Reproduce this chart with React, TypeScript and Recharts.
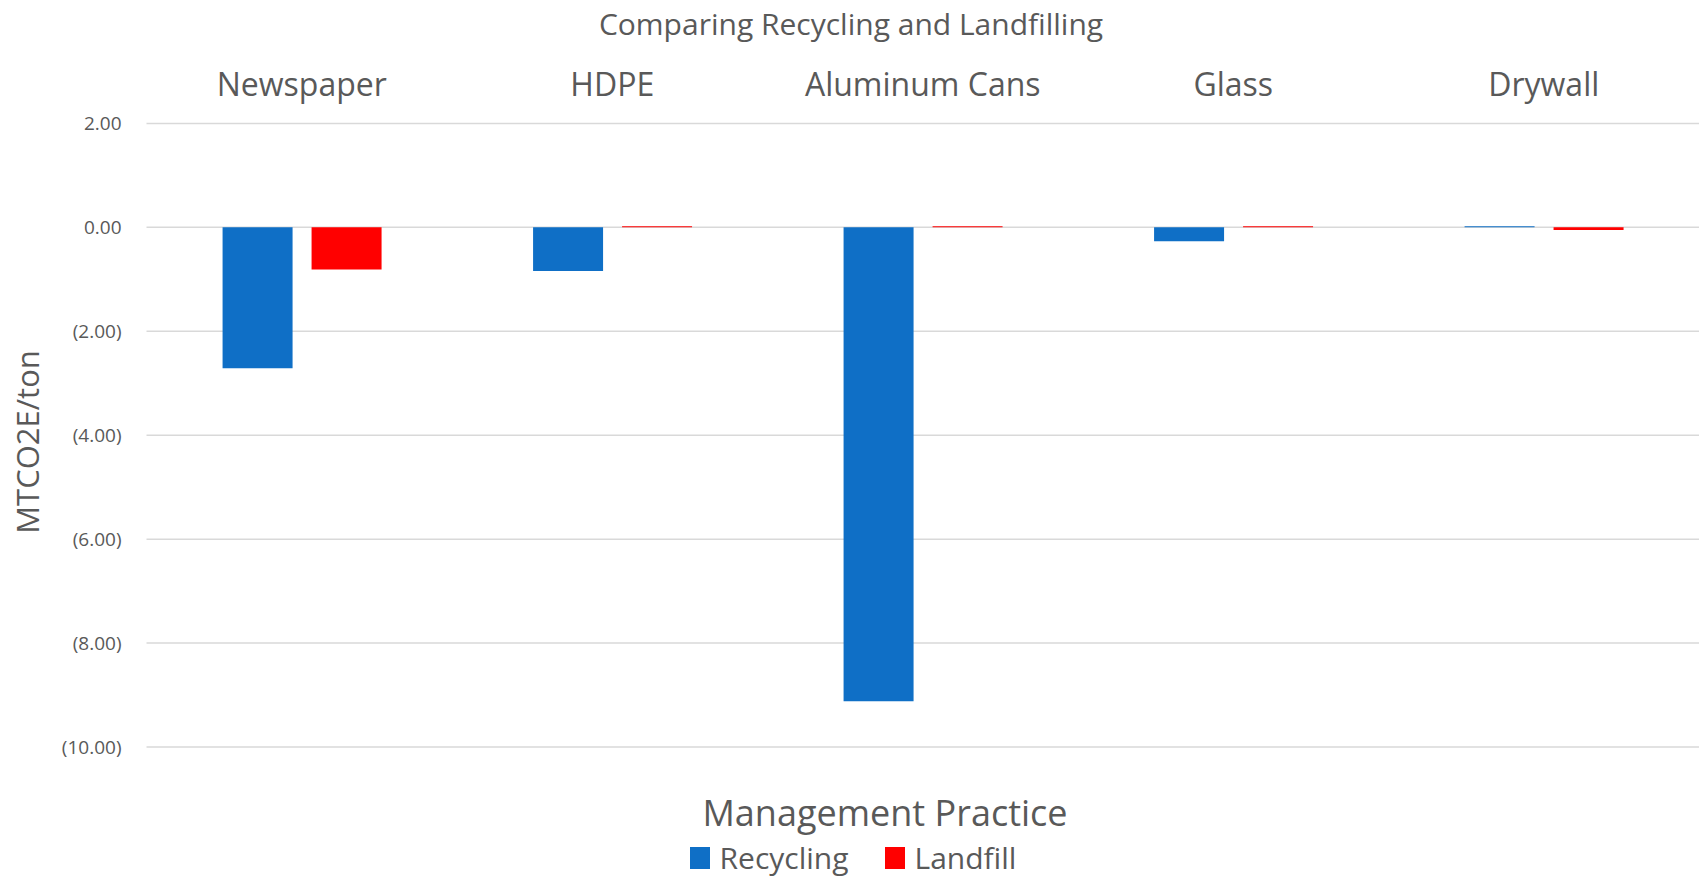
import React from 'react';
import { Bar, BarChart, CartesianGrid, Legend, XAxis, YAxis } from 'recharts';

const categories = ['Newspaper', 'HDPE', 'Aluminum Cans', 'Glass', 'Drywall'];
const recycling = [-2.71, -0.84, -9.12, -0.27, 0.02];
const landfill = [-0.81, 0.02, 0.02, 0.02, -0.05];
const yTicks = [2, 0, -2, -4, -6, -8, -10];

const BLUE = '#0F6FC6';
const RED = '#FF0000';
const TEXT = '#595959';
const FONT = '"Open Sans", "Liberation Sans", sans-serif';

const data = categories.map((name, i) => ({
  name,
  recycling: recycling[i],
  landfill: landfill[i],
}));

// Excel style: negatives in brackets
const fmt = (v: number): string =>
  v < 0 ? `(${Math.abs(v).toFixed(2)})` : v.toFixed(2);

const series = [
  { key: 'recycling', label: 'Recycling', color: BLUE },
  { key: 'landfill', label: 'Landfill', color: RED },
];

function LegendBox(): React.JSX.Element {
  return (
    <div style={{ display: 'flex', justifyContent: 'center', gap: 36, paddingLeft: 4 }}>
      {series.map((s) => (
        <div key={s.key} style={{ display: 'flex', alignItems: 'center' }}>
          <span
            style={{
              display: 'inline-block',
              width: 20,
              height: 22,
              background: s.color,
              marginRight: 10,
            }}
          />
          <span style={{ fontFamily: FONT, fontSize: 30, color: TEXT, lineHeight: '30px' }}>
            {s.label}
          </span>
        </div>
      ))}
    </div>
  );
}

export default function App(): React.JSX.Element {
  return (
    <div
      style={{
        position: 'absolute',
        left: 0,
        top: 0,
        width: 1702,
        height: 879,
        background: '#fff',
        fontFamily: FONT,
      }}
    >
      <div
        style={{
          position: 'absolute',
          left: 0,
          top: 3,
          width: 1702,
          textAlign: 'center',
          fontSize: 30,
          color: TEXT,
          lineHeight: '42px',
        }}
      >
        Comparing Recycling and Landfilling
      </div>
      <div
        style={{
          position: 'absolute',
          left: 0,
          top: 795,
          width: 1702,
          textAlign: 'center',
          fontSize: 36,
          color: TEXT,
          lineHeight: '36px',
          paddingLeft: 68,
          boxSizing: 'border-box',
        }}
      >
        Management Practice
      </div>
      <div
        style={{
          position: 'absolute',
          left: 27 - 150,
          top: 442 - 21,
          width: 300,
          textAlign: 'center',
          fontSize: 31,
          color: TEXT,
          lineHeight: '42px',
          transform: 'rotate(-90deg)',
        }}
      >
        MTCO2E/ton
      </div>
      <BarChart
        width={1702}
        height={879}
        data={data}
        margin={{ top: 60, right: 3, bottom: 132, left: 0 }}
        barCategoryGap="24.5%"
        barGap={19}
        style={{ position: 'absolute', left: 0, top: 0 }}
      >
        <CartesianGrid vertical={false} stroke="#d9d9d9" strokeWidth={1.5} />
        <XAxis
          dataKey="name"
          orientation="top"
          height={63.4}
          axisLine={false}
          tickLine={false}
          tickSize={0}
          tickMargin={27}
          interval={0}
          tick={{ fill: TEXT, fontSize: 32, fontFamily: FONT }}
        />
        <YAxis
          width={146.5}
          domain={[-10, 2]}
          ticks={yTicks}
          interval={0}
          axisLine={false}
          tickLine={false}
          tickSize={0}
          tickMargin={25}
          tickFormatter={fmt}
          tick={{ fill: TEXT, fontSize: 19, fontFamily: FONT }}
        />
        <Legend
          verticalAlign="middle"
          align="center"
          layout="horizontal"
          wrapperStyle={{ top: 843, left: 0, width: 1702 }}
          content={() => <LegendBox />}
        />
        {series.map((s) => (
          <Bar
            key={s.key}
            dataKey={s.key}
            name={s.label}
            fill={s.color}
            isAnimationActive={false}
          />
        ))}
      </BarChart>
    </div>
  );
}
